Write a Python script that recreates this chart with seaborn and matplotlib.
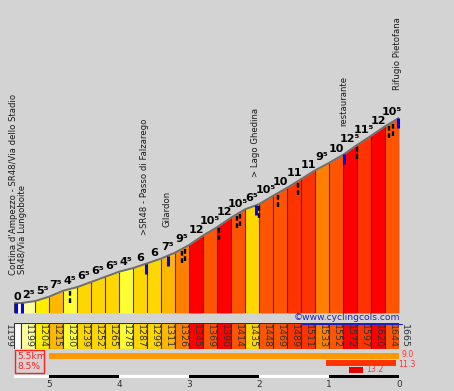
"""
Climb profile - Cortina d'Ampezzo -> Rifugio Pietofana
Elevation profile with grade-coloured segments and climb statistics
"""

import numpy as np
import matplotlib
matplotlib.use("Agg")
import matplotlib.pyplot as plt
from matplotlib.patches import Rectangle
from matplotlib.lines import Line2D
import seaborn as sns

# segment lengths (km) and elevations at segment boundaries (m)
seg_len = [0.1] + [0.2] * 27
elevations = [1199, 1199, 1204, 1215, 1230, 1239, 1252, 1265, 1278, 1287, 1299,
              1311, 1326, 1345, 1369, 1390, 1414, 1435, 1448, 1469, 1489, 1511,
              1533, 1552, 1572, 1597, 1620, 1644, 1665]
grades = [0, 2.5, 5.5, 7.5, 4.5, 6.5, 6.5, 6.5, 4.5, 6, 6, 7.5, 9.5, 12, 10.5,
          12, 10.5, 6.5, 10.5, 10, 11, 11, 9.5, 10, 12.5, 11.5, 12, 10.5]

# points of interest (km to go)
poi_km = [5.47, 5.38, 3.62, 3.30, 2.04, 0.79, 0.01]
poi_names = ["Cortina d'Ampezzo - SR48/Via dello Stadio", "SR48/Via Lungoboite",
             ">SR48 - Passo di Falzarego", "Gilardon", "> Lago Ghedina",
             "restaurante", "Rifugio Pietofana"]

# hairpins (km to go)
hairpin_km = [4.70, 3.10, 3.06, 2.57, 2.31, 2.27, 2.00, 1.73, 1.44, 0.60, 0.14, 0.09]

# steepest stretches: from / to (km to go) and average grade
stat_from = [5.0, 1.05, 0.71]
stat_to = [0.0, 0.05, 0.51]
stat_val = [9.0, 11.3, 13.2]

total_km = 5.5
avg_grade = 8.5
km_ticks = [5, 4, 3, 2, 1, 0]

# style
BG = "#D3D3D3"
grade_bins = [1, 4, 5, 6, 7, 9, 10, 11, 12]
grade_colors = ["#FFFFFF", "#FFFF99", "#FFFF33", "#FFEE00", "#FFD700",
                "#FFB800", "#FF8000", "#FF5500", "#FF3300", "#FF0000"]
stat_colors = ["#FF9900", "#FF3300", "#E60000"]
stat_dy = [1.2, -1.2, 0.0]                             # px nudge of stat labels
label_dx = [-3.0, 0.0, -1.0, -1.0, -1.0, 0.0, -1.0]   # px nudge of place names


def grade_color(g):
    return grade_colors[np.searchsorted(grade_bins, g, side="right")]


def grade_label(g):
    s = str(int(g))
    if g % 1:
        s += "\u2075"
    return s


sns.set_style("white")
plt.rcParams["font.family"] = ["DejaVu Sans"]

W, H = 454, 391
PT = 0.72  # points per pixel at 100 dpi
fig = plt.figure(figsize=(W / 100, H / 100), dpi=100, facecolor=BG)


def px_axes(left, top, right, bottom):
    a = fig.add_axes([left / W, 1 - bottom / H, (right - left) / W, (bottom - top) / H])
    a.set_facecolor("none")
    return a


ax = px_axes(14, 0, 399, 313)
ax_band = px_axes(14, 323, 399, 349)
ax_stat = px_axes(14, 350, 399, 378)

ymin, ymax = 1174, 1962
m_per_px = (ymax - ymin) / 313

# km to go at every boundary
rem = total_km - np.concatenate([[0], np.cumsum(seg_len)])
elev = np.array(elevations)


def elev_at(km):
    return np.interp(km, rem[::-1], elev[::-1])


# --- profile -------------------------------------------------------------
for k, g in enumerate(grades):
    xs = [rem[k], rem[k + 1]]
    ax.fill_between(xs, ymin, [elev[k], elev[k + 1]], color=grade_color(g), lw=0)
ax.vlines(rem, ymin, elev, color="#3a3a3a", lw=0.8)
sns.lineplot(x=rem, y=elev, ax=ax, color="#6e6e6e", lw=1.4)

for k, g in enumerate(grades):
    cx = (rem[k] + rem[k + 1]) / 2
    ax.annotate(grade_label(g), xy=(cx, max(elev[k], elev[k + 1])),
                xytext=(0, 2), textcoords="offset points", ha="center",
                va="baseline", fontsize=8, fontweight="bold", color="black")

for km in hairpin_km:
    e = elev_at(km)
    ax.vlines(km, e - 14 * m_per_px, e, color="black", lw=1.7,
              linestyles=[(0, (2, 1.1))])

for km, name, dx in zip(poi_km, poi_names, label_dx):
    e = elev_at(km)
    ax.vlines(km, e - 10 * m_per_px, e, color="#0000FF", lw=2.2, clip_on=False)
    ax.annotate(name, xy=(km, e), xytext=(dx * PT, 28.5 * PT),
                textcoords="offset points", rotation=90, ha="center",
                va="bottom", fontsize=6.1, color="#1a1a1a",
                annotation_clip=False)

ax.set_xlim(total_km, 0)
ax.set_ylim(ymin, ymax)
ax.axis("off")

# --- elevation band ------------------------------------------------------
ax_band.bar(rem[1:], 1, width=seg_len, align="edge", bottom=0,
            color=[grade_color(g) for g in grades], edgecolor="#333333", lw=0.8)
for k in range(1, len(grades)):
    cx = (rem[k] + rem[k + 1]) / 2
    ax_band.text(cx, 0.5, str(elevations[k]), rotation=270, ha="center",
                 va="center", fontsize=6.8, color="#333333")
ax_band.text(total_km + 0.08, 0.5, str(elevations[0]), rotation=270, ha="center",
             va="center", fontsize=6.8, color="#333333", clip_on=False)
ax_band.text(-0.08, 0.5, str(elevations[-1]), rotation=270, ha="center",
             va="center", fontsize=6.8, color="#333333", clip_on=False)
ax_band.set_xlim(total_km, 0)
ax_band.set_ylim(0, 1)
ax_band.axis("off")

# --- statistics + km scale ----------------------------------------------
rows = [6, 13, 20]
for f, t, v, c, r, dy in zip(stat_from, stat_to, stat_val, stat_colors, rows, stat_dy):
    ax_stat.barh(r, f - t, left=t, height=6, color=c, lw=0)
    ax_stat.annotate(f"{v:.1f}", xy=(t, r), xytext=(2, dy * PT),
                     textcoords="offset points", ha="left", va="center",
                     fontsize=5.6, color="#FF3333", annotation_clip=False)

edges = [total_km] + km_ticks
for i in range(len(km_ticks)):
    ax_stat.barh(26, edges[i] - edges[i + 1], left=edges[i + 1], height=3,
                 color="white" if i % 2 == 0 else "black", lw=0)

ax_stat.add_patch(Rectangle((5.07, 0.3), 0.42, 22.7, fill=False, ec="#FF2020", lw=1))
ax_stat.text(5.45, 11.5, f"{total_km}km\n{avg_grade}%", ha="left", va="center",
             fontsize=6.6, color="#FF2020", linespacing=1.15)

ax_stat.set_xlim(total_km, 0)
ax_stat.set_ylim(28, 0)
ax_stat.set_xticks(km_ticks)
ax_stat.set_xticklabels([str(k) for k in km_ticks], fontsize=6.5, color="#333333")
ax_stat.set_yticks([])
ax_stat.tick_params(axis="x", length=0, pad=1.5)
for s in ax_stat.spines.values():
    s.set_visible(False)

# watermark
fig.text(294 / W, 1 - 318 / H, "\u00a9www.cyclingcols.com", ha="left", va="center",
         fontsize=6.6, color="#2020C0")
fig.add_artist(Line2D([302 / W, 402 / W], [1 - 323.5 / H] * 2, color="#2020C0", lw=0.8))

fig.savefig("out.png", dpi=100, facecolor=BG)
